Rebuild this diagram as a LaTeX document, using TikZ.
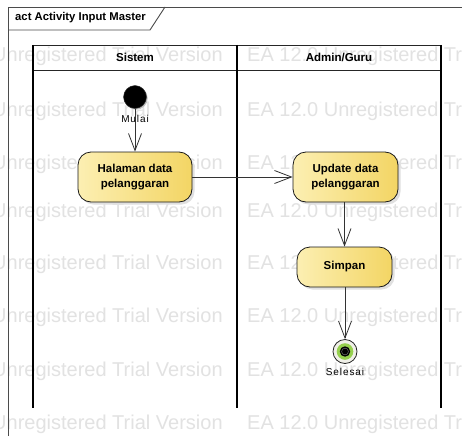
\documentclass[tikz,border=0pt]{standalone}
\usepackage{fontspec}
\setmainfont{Liberation Sans}
\usetikzlibrary{arrows.meta}

\definecolor{wmark}{RGB}{226,226,226}
\definecolor{frameline}{RGB}{75,75,75}
\definecolor{actleft}{RGB}{252,239,178}
\definecolor{actright}{RGB}{243,213,100}
\definecolor{endgreen}{RGB}{150,208,78}
\definecolor{endring}{RGB}{240,240,232}

\tikzset{
  wmtext/.style={anchor=base west, inner sep=0pt, text=wmark,
    font=\fontsize{20}{24}\selectfont},
  lane/.style={draw=black, line width=1.1pt},
  laneline/.style={draw=black!85, line width=0.9pt},
  lanetitle/.style={font=\bfseries\fontsize{11.5}{14}\selectfont, inner sep=0pt},
  action/.style={rectangle, rounded corners=13pt, draw=black!90, line width=0.8pt,
    left color=actleft, right color=actright, align=center,
    font=\bfseries\fontsize{11.5}{15.5}\selectfont, inner sep=0pt,
    preaction={fill=black!12, transform canvas={xshift=2.5pt, yshift=-2.5pt}}},
  startnode/.style={circle, fill=black, draw=black!80, minimum size=23pt, inner sep=0pt,
    preaction={fill=black!25, transform canvas={xshift=1.2pt, yshift=-1.2pt}}},
  endnode/.style={circle, fill=endring, draw=black!85, line width=0.8pt,
    minimum size=24pt, inner sep=0pt},
  smalllabel/.style={font=\fontsize{10}{12}\selectfont\addfontfeature{LetterSpace=9},
    inner sep=0pt},
  flow/.style={draw=black!80, line width=0.8pt,
    -{Straight Barb[length=17pt, width=13pt, line width=0.8pt]}},
}

\begin{document}
\begin{tikzpicture}[x=1pt, y=-1pt]
\useasboundingbox (0,0) rectangle (462,436);
\fill[white] (0,0) rectangle (462,436);

% watermark rows
\foreach \yy in {61,116,169,217,269,322,376,429} {
  \node[wmtext] at (-8,\yy) {Unregistered Trial Version};
  \node[wmtext] at (247,\yy) {EA 12.0 Unregistered Trial Version};
}

% diagram frame and name tab
\draw[frameline, line width=0.9pt] (8,436) -- (8,7) -- (462,7);
\draw[frameline, line width=0.9pt] (8,30) -- (150,30) -- (165,7);
\node[anchor=west, inner sep=0pt, font=\bfseries\fontsize{11.3}{13}\selectfont]
  (frametitle) at (15,18) {act Activity Input Master};

% swimlanes
\draw[laneline] (33,45) -- (441,45);
\draw[laneline] (33,70) -- (441,70);
\draw[lane] (33,45) -- (33,408);
\draw[lane] (237,45) -- (237,408);
\draw[lane] (441,45) -- (441,408);
\node[lanetitle] (lanesistem) at (135,57.5) {Sistem};
\node[lanetitle] (laneadmin) at (339,57.5) {Admin/Guru};

% activity nodes
\node[startnode] (start) at (135,97) {};
\node[action, minimum width=114pt, minimum height=50pt] (halaman) at (135,177)
  {Halaman data\\pelanggaran};
\node[action, minimum width=105pt, minimum height=50pt] (update) at (345.5,177)
  {Update data\\pelanggaran};
\node[action, minimum width=95pt, minimum height=40pt] (simpan) at (344.5,267)
  {Simpan};
\node[endnode] (finish) at (345,351.5) {};
\fill[endgreen] (finish) circle (8.3pt);
\fill[black] (finish) circle (5.2pt);
\draw[black!55, line width=0.5pt] (finish) circle (3.4pt);

% control flows
\draw[flow] (start) -- (halaman);
\draw[flow] (halaman.east) -- (update.west);
\draw[flow] (update.south -| simpan.north) -- (simpan.north);
\draw[flow] (simpan.south -| finish.north) -- (finish.north);

% node labels
\node[smalllabel] (mulailabel) at (135,119) {Mulai};
\node[smalllabel] (selesailabel) at (345,372) {Selesai};
\end{tikzpicture}
\end{document}
